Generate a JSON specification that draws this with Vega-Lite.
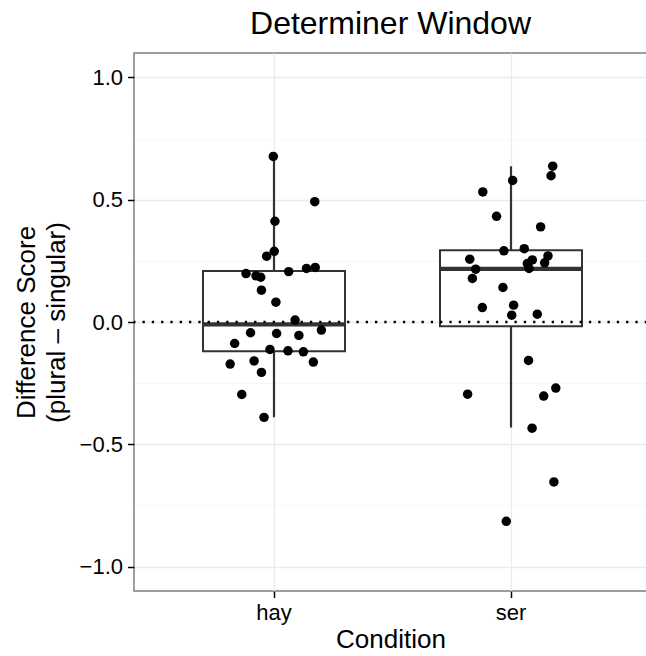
{
  "$schema": "https://vega.github.io/schema/vega-lite/v6.json",
  "autosize": {"type": "none"},
  "padding": {"left": 134, "top": 53, "right": 0, "bottom": 65},
  "width": 513,
  "height": 538,
  "background": "white",
  "config": {
    "font": "Liberation Sans",
    "view": {"stroke": "#7f7f7f", "strokeWidth": 1.5},
    "axis": {"labelColor": "black", "titleColor": "black", "titleFontWeight": "normal", "labelFont": "Liberation Sans", "titleFont": "Liberation Sans"}
  },
  "title": {"text": "Determiner Window", "fontSize": 32, "fontWeight": "normal", "color": "black", "anchor": "middle", "offset": 12},
  "datasets": {
    "pts": [
      {"cond": "hay", "jitter": -0.003, "v": 0.677},
      {"cond": "hay", "jitter": 0.172, "v": 0.492},
      {"cond": "hay", "jitter": 0.004, "v": 0.412},
      {"cond": "hay", "jitter": 0.001, "v": 0.289},
      {"cond": "hay", "jitter": -0.031, "v": 0.269},
      {"cond": "hay", "jitter": -0.118, "v": 0.198},
      {"cond": "hay", "jitter": -0.076, "v": 0.189},
      {"cond": "hay", "jitter": -0.056, "v": 0.183},
      {"cond": "hay", "jitter": 0.062, "v": 0.206},
      {"cond": "hay", "jitter": 0.137, "v": 0.219},
      {"cond": "hay", "jitter": 0.174, "v": 0.223},
      {"cond": "hay", "jitter": -0.053, "v": 0.130},
      {"cond": "hay", "jitter": 0.008, "v": 0.081},
      {"cond": "hay", "jitter": 0.089, "v": 0.008},
      {"cond": "hay", "jitter": -0.099, "v": -0.044},
      {"cond": "hay", "jitter": 0.011, "v": -0.047},
      {"cond": "hay", "jitter": 0.105, "v": -0.055},
      {"cond": "hay", "jitter": 0.200, "v": -0.033},
      {"cond": "hay", "jitter": -0.166, "v": -0.088},
      {"cond": "hay", "jitter": -0.017, "v": -0.112},
      {"cond": "hay", "jitter": 0.059, "v": -0.118},
      {"cond": "hay", "jitter": 0.124, "v": -0.122},
      {"cond": "hay", "jitter": -0.185, "v": -0.172},
      {"cond": "hay", "jitter": -0.084, "v": -0.159},
      {"cond": "hay", "jitter": 0.166, "v": -0.164},
      {"cond": "hay", "jitter": -0.053, "v": -0.206},
      {"cond": "hay", "jitter": -0.136, "v": -0.296},
      {"cond": "hay", "jitter": -0.042, "v": -0.390},
      {"cond": "ser", "jitter": 0.176, "v": 0.637},
      {"cond": "ser", "jitter": 0.169, "v": 0.598},
      {"cond": "ser", "jitter": 0.007, "v": 0.579},
      {"cond": "ser", "jitter": -0.119, "v": 0.532},
      {"cond": "ser", "jitter": -0.061, "v": 0.432},
      {"cond": "ser", "jitter": 0.125, "v": 0.389},
      {"cond": "ser", "jitter": -0.030, "v": 0.291},
      {"cond": "ser", "jitter": 0.056, "v": 0.300},
      {"cond": "ser", "jitter": -0.174, "v": 0.257},
      {"cond": "ser", "jitter": -0.149, "v": 0.216},
      {"cond": "ser", "jitter": -0.163, "v": 0.178},
      {"cond": "ser", "jitter": 0.090, "v": 0.254},
      {"cond": "ser", "jitter": 0.069, "v": 0.239},
      {"cond": "ser", "jitter": 0.076, "v": 0.219},
      {"cond": "ser", "jitter": 0.156, "v": 0.270},
      {"cond": "ser", "jitter": 0.142, "v": 0.242},
      {"cond": "ser", "jitter": -0.034, "v": 0.141},
      {"cond": "ser", "jitter": -0.121, "v": 0.059},
      {"cond": "ser", "jitter": 0.011, "v": 0.069},
      {"cond": "ser", "jitter": 0.003, "v": 0.028},
      {"cond": "ser", "jitter": 0.111, "v": 0.032},
      {"cond": "ser", "jitter": 0.074, "v": -0.157},
      {"cond": "ser", "jitter": -0.183, "v": -0.295},
      {"cond": "ser", "jitter": 0.138, "v": -0.303},
      {"cond": "ser", "jitter": 0.189, "v": -0.270},
      {"cond": "ser", "jitter": 0.089, "v": -0.434},
      {"cond": "ser", "jitter": 0.181, "v": -0.654},
      {"cond": "ser", "jitter": -0.020, "v": -0.815}
    ],
    "box": [
      {"cond": "hay", "lo": -0.390, "q1": -0.120, "med": -0.010, "q3": 0.209, "hi": 0.677},
      {"cond": "ser", "lo": -0.431, "q1": -0.017, "med": 0.217, "q3": 0.293, "hi": 0.637}
    ]
  },
  "layer": [
    {
      "data": {"name": "box"},
      "mark": {"type": "rule", "color": "#333333", "strokeWidth": 2.2},
      "encoding": {
        "x": {
          "field": "cond", "type": "nominal",
          "scale": {"type": "band", "domain": ["hay", "ser"], "paddingInner": 0, "paddingOuter": 0.08228, "align": 0.5513},
          "axis": {"title": "Condition", "titleFontSize": 26, "titlePadding": 3, "labelFontSize": 22, "labelAngle": 0, "labelPadding": 5, "tickColor": "black", "tickWidth": 1.5, "tickSize": 6.5, "domain": false, "grid": true, "gridColor": "#ebebeb", "gridWidth": 1.3}
        },
        "y": {
          "field": "lo", "type": "quantitative",
          "scale": {"domain": [-1.1, 1.1], "nice": false, "zero": false},
          "axis": {
            "title": ["Difference Score", "(plural – singular)"],
            "titleFontSize": 26, "titleLineHeight": 30, "titlePadding": 10,
            "values": [-1, -0.75, -0.5, -0.25, 0, 0.25, 0.5, 0.75, 1],
            "labelExpr": "abs(datum.value*2-round(datum.value*2))<0.001 ? replace(format(datum.value,'.1f'),'-','−') : ''",
            "labelFontSize": 22, "labelPadding": 5,
            "tickSize": 6.5, "tickWidth": 1.5,
            "tickColor": {"condition": {"test": "abs(datum.value*2-round(datum.value*2))<0.001", "value": "black"}, "value": "transparent"},
            "domain": false, "grid": true,
            "gridColor": {"condition": {"test": "abs(datum.value*2-round(datum.value*2))<0.001", "value": "#ebebeb"}, "value": "#f5f5f5"},
            "gridWidth": {"condition": {"test": "abs(datum.value*2-round(datum.value*2))<0.001", "value": 1.3}, "value": 0.8}
          }
        },
        "y2": {"field": "hi"}
      }
    },
    {
      "data": {"name": "box"},
      "mark": {"type": "bar", "fill": "white", "stroke": "#333333", "strokeWidth": 2, "width": 142},
      "encoding": {
        "x": {"field": "cond", "type": "nominal"},
        "y": {"field": "q1", "type": "quantitative"},
        "y2": {"field": "q3"}
      }
    },
    {
      "data": {"name": "box"},
      "mark": {"type": "tick", "color": "#333333", "thickness": 4.3, "size": 142, "orient": "horizontal", "opacity": 1},
      "encoding": {
        "x": {"field": "cond", "type": "nominal"},
        "y": {"field": "med", "type": "quantitative"}
      }
    },
    {
      "data": {"values": [{}]},
      "mark": {"type": "rule", "color": "black", "strokeWidth": 2.3, "strokeDash": [2.3, 7]},
      "encoding": {"y": {"datum": 0, "type": "quantitative"}}
    },
    {
      "data": {"name": "pts"},
      "mark": {"type": "circle", "color": "black", "size": 90, "opacity": 1},
      "encoding": {
        "x": {"field": "cond", "type": "nominal"},
        "xOffset": {"field": "jitter", "type": "quantitative", "scale": {"domain": [-0.5, 0.5]}},
        "y": {"field": "v", "type": "quantitative"}
      }
    }
  ]
}
